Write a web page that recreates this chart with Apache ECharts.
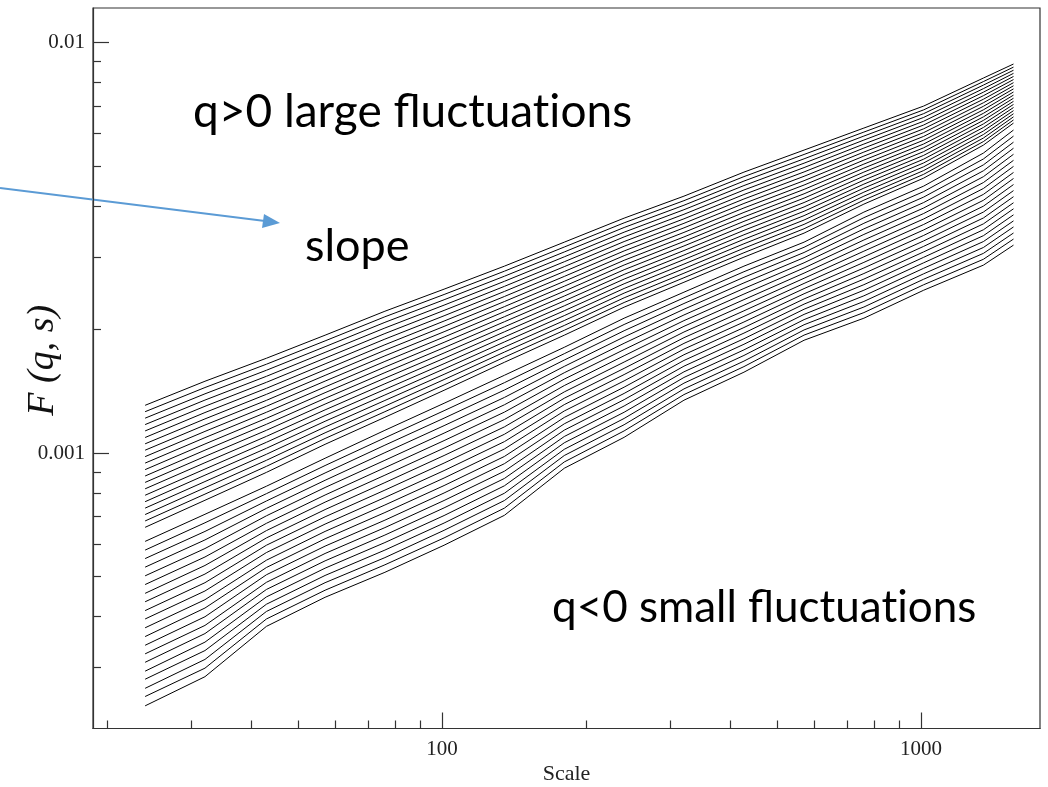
<!DOCTYPE html>
<html>
<head>
<meta charset="utf-8">
<script src="https://cdn.jsdelivr.net/npm/echarts@6/dist/echarts.min.js"></script>
<style>
  html, body { margin: 0; padding: 0; background: #fff; }
  #chart { width: 1048px; height: 787px; }
</style>
</head>
<body>
<div id="chart"></div>
<script>
// scales (x) where each F(q,s) curve is read
const scales = [24, 32, 43, 57, 76, 101, 135, 180, 240, 320, 427, 570, 760, 1013, 1350, 1560];

// F(q,s), one curve per q (q = 5 ... 0.25, then -0.25 ... -5)
const fq_p500 = [1.307e-3, 1.496e-3, 1.702e-3, 1.937e-3, 2.216e-3, 2.508e-3, 2.854e-3, 3.265e-3, 3.736e-3, 4.227e-3, 4.837e-3, 5.474e-3, 6.194e-3, 7.008e-3, 8.201e-3, 8.872e-3];
const fq_p475 = [1.261e-3, 1.444e-3, 1.646e-3, 1.876e-3, 2.148e-3, 2.434e-3, 2.774e-3, 3.177e-3, 3.639e-3, 4.121e-3, 4.717e-3, 5.341e-3, 6.056e-3, 6.860e-3, 8.040e-3, 8.719e-3];
const fq_p450 = [1.216e-3, 1.394e-3, 1.591e-3, 1.816e-3, 2.082e-3, 2.363e-3, 2.697e-3, 3.090e-3, 3.545e-3, 4.017e-3, 4.600e-3, 5.212e-3, 5.922e-3, 6.716e-3, 7.883e-3, 8.568e-3];
const fq_p425 = [1.173e-3, 1.346e-3, 1.538e-3, 1.759e-3, 2.017e-3, 2.293e-3, 2.621e-3, 3.007e-3, 3.453e-3, 3.917e-3, 4.486e-3, 5.086e-3, 5.790e-3, 6.575e-3, 7.728e-3, 8.420e-3];
const fq_p400 = [1.132e-3, 1.300e-3, 1.487e-3, 1.703e-3, 1.955e-3, 2.226e-3, 2.548e-3, 2.925e-3, 3.363e-3, 3.818e-3, 4.375e-3, 4.962e-3, 5.662e-3, 6.436e-3, 7.576e-3, 8.274e-3];
const fq_p375 = [1.091e-3, 1.255e-3, 1.438e-3, 1.649e-3, 1.895e-3, 2.160e-3, 2.476e-3, 2.846e-3, 3.276e-3, 3.722e-3, 4.266e-3, 4.842e-3, 5.536e-3, 6.301e-3, 7.428e-3, 8.131e-3];
const fq_p350 = [1.053e-3, 1.211e-3, 1.390e-3, 1.596e-3, 1.836e-3, 2.097e-3, 2.407e-3, 2.769e-3, 3.191e-3, 3.629e-3, 4.160e-3, 4.725e-3, 5.413e-3, 6.168e-3, 7.282e-3, 7.991e-3];
const fq_p325 = [1.016e-3, 1.170e-3, 1.344e-3, 1.546e-3, 1.780e-3, 2.035e-3, 2.340e-3, 2.694e-3, 3.108e-3, 3.538e-3, 4.057e-3, 4.610e-3, 5.293e-3, 6.038e-3, 7.139e-3, 7.852e-3];
const fq_p300 = [0.980e-3, 1.129e-3, 1.300e-3, 1.497e-3, 1.725e-3, 1.975e-3, 2.274e-3, 2.621e-3, 3.027e-3, 3.449e-3, 3.956e-3, 4.499e-3, 5.175e-3, 5.911e-3, 6.999e-3, 7.717e-3];
const fq_p275 = [0.945e-3, 1.090e-3, 1.257e-3, 1.449e-3, 1.672e-3, 1.917e-3, 2.211e-3, 2.550e-3, 2.949e-3, 3.362e-3, 3.858e-3, 4.390e-3, 5.060e-3, 5.786e-3, 6.862e-3, 7.583e-3];
const fq_p250 = [0.911e-3, 1.052e-3, 1.215e-3, 1.403e-3, 1.620e-3, 1.861e-3, 2.149e-3, 2.480e-3, 2.872e-3, 3.278e-3, 3.762e-3, 4.283e-3, 4.948e-3, 5.664e-3, 6.728e-3, 7.452e-3];
const fq_p225 = [0.879e-3, 1.016e-3, 1.175e-3, 1.359e-3, 1.570e-3, 1.806e-3, 2.089e-3, 2.413e-3, 2.797e-3, 3.196e-3, 3.669e-3, 4.180e-3, 4.838e-3, 5.545e-3, 6.596e-3, 7.323e-3];
const fq_p200 = [0.848e-3, 0.981e-3, 1.136e-3, 1.316e-3, 1.522e-3, 1.753e-3, 2.030e-3, 2.348e-3, 2.725e-3, 3.115e-3, 3.578e-3, 4.078e-3, 4.730e-3, 5.428e-3, 6.466e-3, 7.197e-3];
const fq_p175 = [0.818e-3, 0.947e-3, 1.098e-3, 1.274e-3, 1.475e-3, 1.701e-3, 1.974e-3, 2.284e-3, 2.654e-3, 3.037e-3, 3.489e-3, 3.979e-3, 4.625e-3, 5.314e-3, 6.340e-3, 7.072e-3];
const fq_p150 = [0.789e-3, 0.914e-3, 1.062e-3, 1.234e-3, 1.429e-3, 1.651e-3, 1.918e-3, 2.222e-3, 2.585e-3, 2.961e-3, 3.403e-3, 3.883e-3, 4.522e-3, 5.202e-3, 6.215e-3, 6.950e-3];
const fq_p125 = [0.761e-3, 0.883e-3, 1.027e-3, 1.195e-3, 1.385e-3, 1.603e-3, 1.865e-3, 2.162e-3, 2.518e-3, 2.887e-3, 3.318e-3, 3.789e-3, 4.422e-3, 5.093e-3, 6.093e-3, 6.830e-3];
const fq_p100 = [0.734e-3, 0.852e-3, 0.993e-3, 1.157e-3, 1.343e-3, 1.555e-3, 1.812e-3, 2.103e-3, 2.453e-3, 2.814e-3, 3.236e-3, 3.697e-3, 4.323e-3, 4.985e-3, 5.974e-3, 6.712e-3];
const fq_p075 = [0.708e-3, 0.823e-3, 0.960e-3, 1.120e-3, 1.301e-3, 1.510e-3, 1.762e-3, 2.046e-3, 2.389e-3, 2.743e-3, 3.156e-3, 3.608e-3, 4.227e-3, 4.880e-3, 5.857e-3, 6.596e-3];
const fq_p050 = [0.683e-3, 0.794e-3, 0.928e-3, 1.085e-3, 1.261e-3, 1.465e-3, 1.712e-3, 1.991e-3, 2.327e-3, 2.674e-3, 3.077e-3, 3.520e-3, 4.133e-3, 4.778e-3, 5.742e-3, 6.482e-3];
const fq_p025 = [0.659e-3, 0.767e-3, 0.897e-3, 1.050e-3, 1.222e-3, 1.422e-3, 1.664e-3, 1.937e-3, 2.267e-3, 2.607e-3, 3.001e-3, 3.435e-3, 4.042e-3, 4.677e-3, 5.629e-3, 6.369e-3];

const fq_m025 = [0.609e-3, 0.709e-3, 0.830e-3, 0.971e-3, 1.136e-3, 1.322e-3, 1.547e-3, 1.810e-3, 2.131e-3, 2.466e-3, 2.854e-3, 3.265e-3, 3.865e-3, 4.472e-3, 5.383e-3, 6.125e-3];
const fq_m050 = [0.580e-3, 0.676e-3, 0.796e-3, 0.932e-3, 1.089e-3, 1.268e-3, 1.484e-3, 1.746e-3, 2.057e-3, 2.389e-3, 2.766e-3, 3.172e-3, 3.746e-3, 4.337e-3, 5.208e-3, 5.920e-3];
const fq_m075 = [0.553e-3, 0.644e-3, 0.764e-3, 0.894e-3, 1.045e-3, 1.216e-3, 1.424e-3, 1.685e-3, 1.986e-3, 2.314e-3, 2.681e-3, 3.081e-3, 3.630e-3, 4.205e-3, 5.038e-3, 5.722e-3];
const fq_m100 = [0.527e-3, 0.614e-3, 0.733e-3, 0.858e-3, 1.002e-3, 1.166e-3, 1.366e-3, 1.626e-3, 1.918e-3, 2.241e-3, 2.598e-3, 2.993e-3, 3.518e-3, 4.078e-3, 4.874e-3, 5.531e-3];
const fq_m125 = [0.502e-3, 0.585e-3, 0.703e-3, 0.824e-3, 0.960e-3, 1.118e-3, 1.311e-3, 1.569e-3, 1.851e-3, 2.170e-3, 2.518e-3, 2.908e-3, 3.410e-3, 3.955e-3, 4.715e-3, 5.346e-3];
const fq_m150 = [0.478e-3, 0.558e-3, 0.674e-3, 0.790e-3, 0.921e-3, 1.072e-3, 1.258e-3, 1.514e-3, 1.787e-3, 2.102e-3, 2.440e-3, 2.825e-3, 3.305e-3, 3.835e-3, 4.562e-3, 5.168e-3];
const fq_m175 = [0.455e-3, 0.532e-3, 0.647e-3, 0.759e-3, 0.883e-3, 1.028e-3, 1.207e-3, 1.460e-3, 1.726e-3, 2.036e-3, 2.365e-3, 2.744e-3, 3.203e-3, 3.719e-3, 4.413e-3, 4.995e-3];
const fq_m200 = [0.434e-3, 0.507e-3, 0.621e-3, 0.728e-3, 0.847e-3, 0.986e-3, 1.158e-3, 1.409e-3, 1.666e-3, 1.972e-3, 2.292e-3, 2.666e-3, 3.104e-3, 3.606e-3, 4.269e-3, 4.828e-3];
const fq_m225 = [0.413e-3, 0.483e-3, 0.596e-3, 0.699e-3, 0.812e-3, 0.945e-3, 1.111e-3, 1.360e-3, 1.608e-3, 1.910e-3, 2.221e-3, 2.590e-3, 3.008e-3, 3.497e-3, 4.130e-3, 4.667e-3];
const fq_m250 = [0.394e-3, 0.461e-3, 0.572e-3, 0.671e-3, 0.779e-3, 0.906e-3, 1.066e-3, 1.312e-3, 1.553e-3, 1.850e-3, 2.153e-3, 2.516e-3, 2.915e-3, 3.391e-3, 3.996e-3, 4.511e-3];
const fq_m275 = [0.375e-3, 0.439e-3, 0.548e-3, 0.644e-3, 0.747e-3, 0.869e-3, 1.023e-3, 1.266e-3, 1.499e-3, 1.792e-3, 2.086e-3, 2.444e-3, 2.825e-3, 3.288e-3, 3.866e-3, 4.360e-3];
const fq_m300 = [0.357e-3, 0.419e-3, 0.526e-3, 0.618e-3, 0.716e-3, 0.833e-3, 0.981e-3, 1.221e-3, 1.447e-3, 1.736e-3, 2.022e-3, 2.374e-3, 2.738e-3, 3.189e-3, 3.740e-3, 4.214e-3];
const fq_m325 = [0.340e-3, 0.399e-3, 0.505e-3, 0.593e-3, 0.686e-3, 0.799e-3, 0.942e-3, 1.178e-3, 1.397e-3, 1.681e-3, 1.960e-3, 2.306e-3, 2.654e-3, 3.092e-3, 3.618e-3, 4.073e-3];
const fq_m350 = [0.324e-3, 0.380e-3, 0.484e-3, 0.569e-3, 0.658e-3, 0.766e-3, 0.903e-3, 1.137e-3, 1.349e-3, 1.628e-3, 1.899e-3, 2.241e-3, 2.572e-3, 2.999e-3, 3.500e-3, 3.937e-3];
const fq_m375 = [0.309e-3, 0.363e-3, 0.465e-3, 0.546e-3, 0.631e-3, 0.735e-3, 0.867e-3, 1.097e-3, 1.302e-3, 1.577e-3, 1.841e-3, 2.177e-3, 2.493e-3, 2.908e-3, 3.386e-3, 3.806e-3];
const fq_m400 = [0.294e-3, 0.346e-3, 0.446e-3, 0.524e-3, 0.605e-3, 0.704e-3, 0.832e-3, 1.059e-3, 1.257e-3, 1.528e-3, 1.784e-3, 2.114e-3, 2.416e-3, 2.820e-3, 3.276e-3, 3.679e-3];
const fq_m425 = [0.281e-3, 0.330e-3, 0.428e-3, 0.503e-3, 0.580e-3, 0.675e-3, 0.798e-3, 1.021e-3, 1.214e-3, 1.480e-3, 1.729e-3, 2.054e-3, 2.341e-3, 2.734e-3, 3.169e-3, 3.556e-3];
const fq_m450 = [0.267e-3, 0.314e-3, 0.411e-3, 0.483e-3, 0.556e-3, 0.648e-3, 0.766e-3, 0.986e-3, 1.172e-3, 1.433e-3, 1.675e-3, 1.995e-3, 2.269e-3, 2.652e-3, 3.066e-3, 3.437e-3];
const fq_m475 = [0.255e-3, 0.299e-3, 0.394e-3, 0.463e-3, 0.534e-3, 0.621e-3, 0.734e-3, 0.951e-3, 1.132e-3, 1.388e-3, 1.624e-3, 1.938e-3, 2.199e-3, 2.571e-3, 2.966e-3, 3.322e-3];
const fq_m500 = [0.242e-3, 0.285e-3, 0.378e-3, 0.445e-3, 0.512e-3, 0.596e-3, 0.705e-3, 0.918e-3, 1.092e-3, 1.345e-3, 1.574e-3, 1.883e-3, 2.131e-3, 2.493e-3, 2.870e-3, 3.211e-3];

const curves = [
  fq_p500, fq_p475, fq_p450, fq_p425, fq_p400, fq_p375, fq_p350, fq_p325, fq_p300, fq_p275,
  fq_p250, fq_p225, fq_p200, fq_p175, fq_p150, fq_p125, fq_p100, fq_p075, fq_p050, fq_p025,
  fq_m025, fq_m050, fq_m075, fq_m100, fq_m125, fq_m150, fq_m175, fq_m200, fq_m225, fq_m250,
  fq_m275, fq_m300, fq_m325, fq_m350, fq_m375, fq_m400, fq_m425, fq_m450, fq_m475, fq_m500
];

// tick positions
const xMajor = [100, 1000];
const xMinor = [20, 30, 40, 50, 60, 70, 80, 90, 200, 300, 400, 500, 600, 700, 800, 900];
const yMajor = [0.001, 0.01];
const yMinor = [0.0003, 0.0004, 0.0005, 0.0006, 0.0007, 0.0008, 0.0009, 0.002, 0.003, 0.004, 0.005, 0.006, 0.007, 0.008, 0.009];

const xMin = 18.68, xMax = 1772;
const yMin = 2.131e-4, yMax = 0.01215;

const chart = echarts.init(document.getElementById('chart'));

const serif = '"Liberation Serif", "DejaVu Serif", serif';
const gridBox = { left: 93, right: 8, top: 8, bottom: 58.5, outerBoundsMode: 'none', containLabel: false };
const tickStyle = { color: '#333', width: 1.2 };

const series = curves.map(function (c) {
  return {
    type: 'line',
    xAxisIndex: 0,
    yAxisIndex: 0,
    data: scales.map(function (s, i) { return [s, c[i]]; }),
    showSymbol: false,
    silent: true,
    lineStyle: { color: '#000', width: 1 }
  };
});

// annotation text (ZWNJ keeps "ti" from forming a ligature)
const textTop = 'q>0 large fluctuat\u200Cions';
const textMid = 'slope';
const textLow = 'q<0 small fluctuat\u200Cions';

chart.setOption({
  animation: false,
  grid: [
    Object.assign({ show: true, borderColor: '#333', borderWidth: 1.2 }, gridBox),
    Object.assign({}, gridBox)
  ],
  xAxis: [
    {
      type: 'log', gridIndex: 0, min: xMin, max: xMax,
      name: 'Scale', nameLocation: 'middle', nameGap: 35, nameMoveOverlap: false,
      nameTextStyle: { fontFamily: serif, fontSize: 22, color: '#222' },
      axisLine: { lineStyle: tickStyle },
      axisTick: { inside: true, length: 16, customValues: xMajor, lineStyle: tickStyle },
      axisLabel: { customValues: xMajor, fontFamily: serif, fontSize: 21, color: '#222', margin: 10,
        formatter: function (v) { return String(Math.round(v)); } },
      splitLine: { show: false }
    },
    {
      type: 'log', gridIndex: 1, min: xMin, max: xMax,
      axisLine: { show: false },
      axisTick: { inside: true, length: 8, customValues: xMinor, lineStyle: tickStyle },
      axisLabel: { show: false },
      splitLine: { show: false }
    }
  ],
  yAxis: [
    {
      type: 'log', gridIndex: 0, min: yMin, max: yMax,
      name: 'F (q, s)', nameLocation: 'middle', nameGap: 31, nameRotate: 90, nameMoveOverlap: false,
      nameTextStyle: { fontFamily: serif, fontSize: 38, fontStyle: 'italic', color: '#111', padding: [0, 0, 0, 16] },
      axisLine: { lineStyle: tickStyle },
      axisTick: { inside: true, length: 16, customValues: yMajor, lineStyle: tickStyle },
      axisLabel: { customValues: yMajor, fontFamily: serif, fontSize: 21, color: '#222', margin: 8,
        formatter: function (v) { return String(+v.toPrecision(3)); } },
      splitLine: { show: false }
    },
    {
      type: 'log', gridIndex: 1, min: yMin, max: yMax,
      axisLine: { show: false },
      axisTick: { inside: true, length: 8, customValues: yMinor, lineStyle: tickStyle },
      axisLabel: { show: false },
      splitLine: { show: false }
    }
  ],
  graphic: [
    {
      type: 'text', x: 193, y: 112,
      style: { text: textTop, font: '46px Lato', fill: '#000',
        textAlign: 'left', textVerticalAlign: 'middle', align: 'left', verticalAlign: 'middle' }
    },
    {
      type: 'text', x: 305, y: 246,
      style: { text: textMid, font: '45px Lato', fill: '#000',
        textAlign: 'left', textVerticalAlign: 'middle', align: 'left', verticalAlign: 'middle' }
    },
    {
      type: 'text', x: 552, y: 608,
      style: { text: textLow, font: '44px Lato', fill: '#000',
        textAlign: 'left', textVerticalAlign: 'middle', align: 'left', verticalAlign: 'middle' }
    },
    {
      type: 'line', shape: { x1: 0, y1: 188, x2: 265, y2: 221 },
      style: { stroke: '#5B9BD5', lineWidth: 2 }
    },
    {
      type: 'polygon', shape: { points: [[280, 223], [262, 228], [264, 214]] },
      style: { fill: '#5B9BD5' }
    }
  ],
  series: series
});
</script>
</body>
</html>
